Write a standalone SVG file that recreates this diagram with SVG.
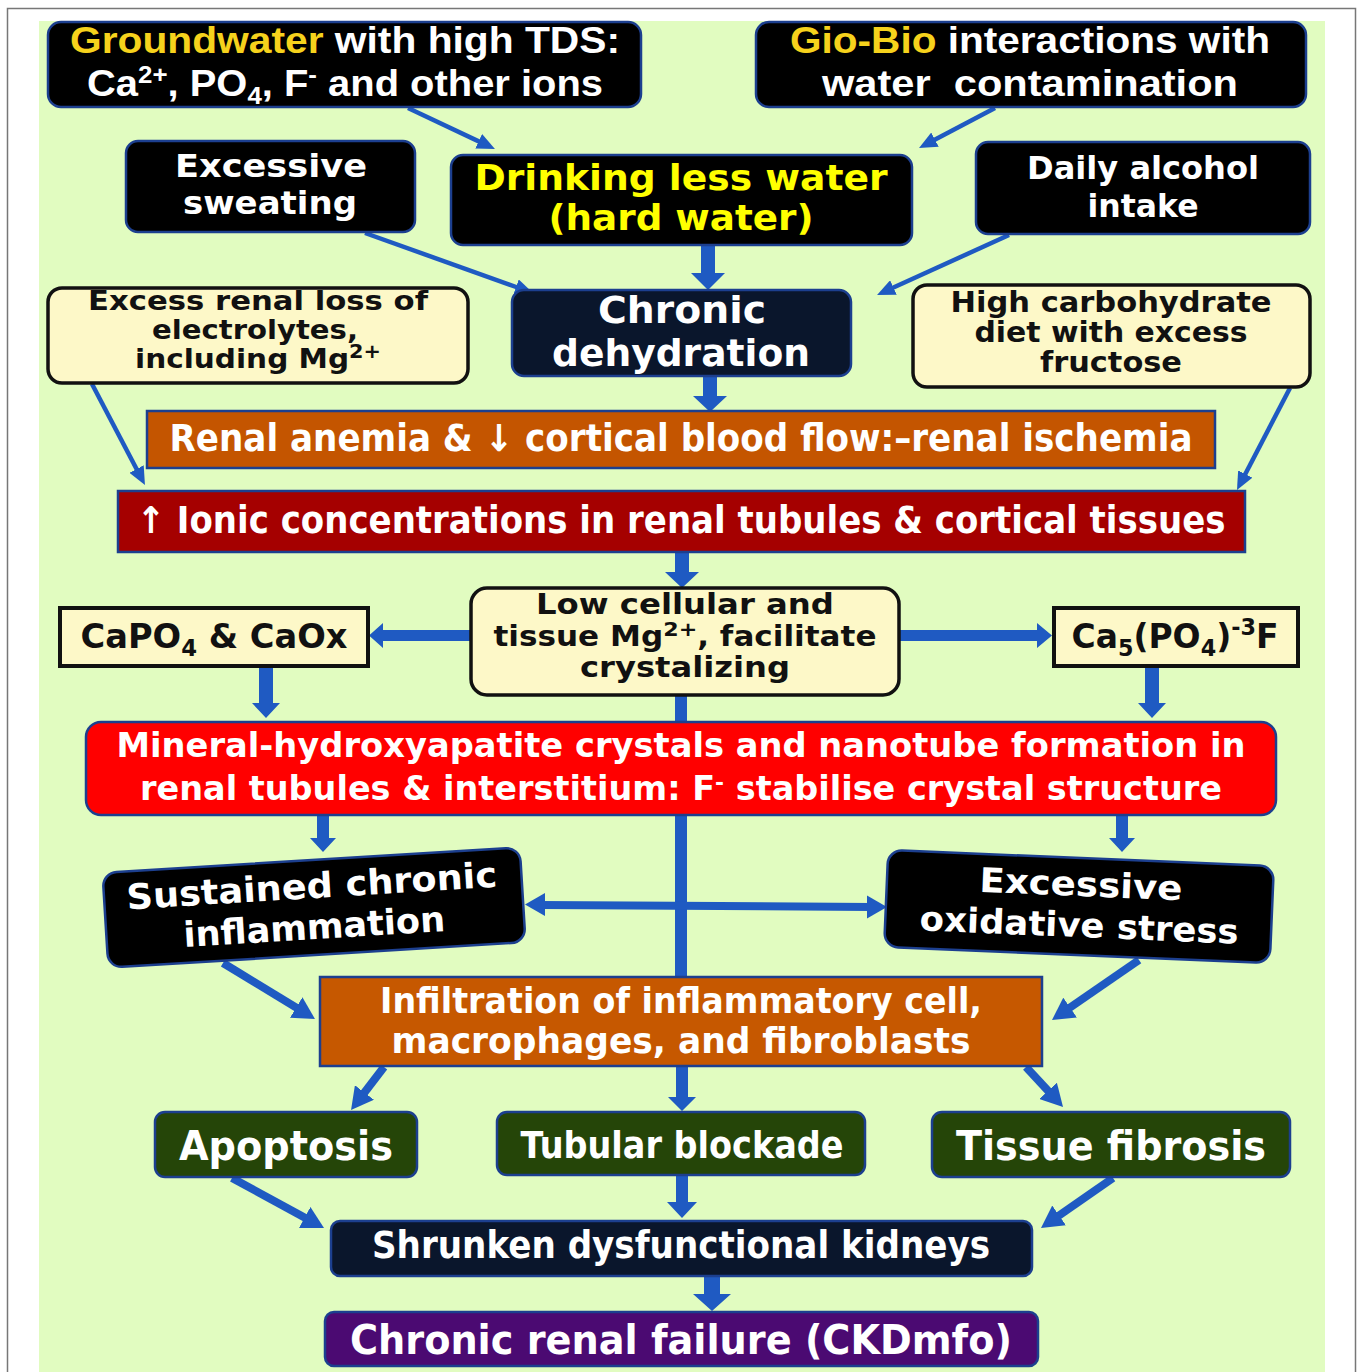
<svg xmlns="http://www.w3.org/2000/svg" width="1358" height="1372" viewBox="0 0 1358 1372">
<defs>
<style>
.t{font-family:"DejaVu Sans","Liberation Sans",sans-serif;font-weight:bold;text-anchor:middle;fill:#fff}
.l{font-family:"Liberation Sans","DejaVu Sans",sans-serif;font-weight:bold;text-anchor:middle;fill:#fff}
.dk{fill:#000;stroke:#1c3f8f;stroke-width:2.5}
.nv{fill:#0a162c;stroke:#1c3f8f;stroke-width:2.5}
.yl{fill:#fdf8c8;stroke:#111;stroke-width:3.5}
.gr{fill:#254508;stroke:#1c3f8f;stroke-width:2.5}
.or{fill:#c45500;stroke:#1c3f8f;stroke-width:2.5}
.yel{fill:#f6d21c}
.conn line{stroke:#1f5ac2;fill:none}
.conn polygon{fill:#1f5ac2}
.thin{stroke-width:4.5}
.med{stroke-width:8}
</style>
<marker id="ah" markerUnits="userSpaceOnUse" markerWidth="18" markerHeight="16" refX="3" refY="8" orient="auto"><path d="M0,0 L18,8 L0,16 z" fill="#1f5ac2"/></marker>
<marker id="ahm" markerUnits="userSpaceOnUse" markerWidth="22" markerHeight="24" refX="4" refY="12" orient="auto"><path d="M0,0 L22,12 L0,24 z" fill="#1f5ac2"/></marker>
</defs>
<rect x="0" y="0" width="1358" height="1372" fill="#fff"/>
<rect x="7.5" y="8.5" width="1348" height="1380" fill="#fff" stroke="#777" stroke-width="1.5"/>
<rect x="39" y="21" width="1286" height="1351" fill="#e1fcc0"/>

<g id="connectors" class="conn">
<line class="thin" x1="408" y1="108" x2="481.4" y2="142.6" marker-end="url(#ah)"/>
<line class="thin" x1="995" y1="108" x2="932.3" y2="141" marker-end="url(#ah)"/>
<line class="thin" x1="365" y1="233" x2="518.9" y2="288" marker-end="url(#ah)"/>
<line class="thin" x1="1009" y1="235" x2="890.7" y2="288.8" marker-end="url(#ah)"/>
<line class="thin" x1="92" y1="384" x2="138" y2="471.7" marker-end="url(#ah)"/>
<line class="thin" x1="1290" y1="388" x2="1243.9" y2="476.7" marker-end="url(#ah)"/>
<polygon points="701,246 715,246 715,273 725,273 708,290 691,273 701,273"/>
<polygon points="703,376 717,376 717,396 727,396 710,412 693,396 703,396"/>
<polygon points="675,552 689,552 689,572 699,572 682,588 665,572 675,572"/>
<polygon points="471,630 383,630 383,623 369,635.5 383,648 383,641 471,641"/>
<polygon points="899,630 1037,630 1037,623 1052,635.5 1037,648 1037,641 899,641"/>
<polygon points="259,667 273,667 273,703 280,703 266,718 252,703 259,703"/>
<polygon points="1145,667 1159,667 1159,703 1166,703 1152,718 1138,703 1145,703"/>
<line x1="681" y1="695" x2="681" y2="977" stroke-width="12"/>
<line x1="540" y1="905" x2="872" y2="907" stroke-width="8"/>
<polygon points="525,904.5 545,893 545,916"/>
<polygon points="887,907 867,895.5 867,918.5"/>
<polygon points="317,815 329,815 329,838 336,838 323,852 310,838 317,838"/>
<polygon points="1116,815 1128,815 1128,838 1135,838 1122,852 1109,838 1116,838"/>
<line class="med" x1="223" y1="963" x2="299.6" y2="1009.6" marker-end="url(#ahm)"/>
<line class="med" x1="1139" y1="960" x2="1066.8" y2="1009.8" marker-end="url(#ahm)"/>
<line class="med" x1="384" y1="1067" x2="362" y2="1095.7" marker-end="url(#ahm)"/>
<line class="med" x1="1026" y1="1067" x2="1050.8" y2="1093.8" marker-end="url(#ahm)"/>
<polygon points="676,1066 688,1066 688,1097 696,1097 682,1111 668,1097 676,1097"/>
<line class="med" x1="232" y1="1178" x2="308.2" y2="1219.4" marker-end="url(#ahm)"/>
<line class="med" x1="1113" y1="1178" x2="1055.8" y2="1217.7" marker-end="url(#ahm)"/>
<polygon points="676,1175 688,1175 688,1202 697,1202 682,1218 667,1202 676,1202"/>
<polygon points="704,1277 720,1277 720,1294 731,1294 712,1311 693,1294 704,1294"/>
</g>

<g id="groundwater">
<rect class="dk" x="48" y="22" width="593" height="85" rx="13"/>
<text class="l" x="345" y="53" font-size="37" textLength="550" lengthAdjust="spacingAndGlyphs"><tspan class="yel">Groundwater</tspan> with high TDS:</text>
<text class="l" x="345" y="96" font-size="37" textLength="516" lengthAdjust="spacingAndGlyphs">Ca<tspan dy="-13" font-size="24">2+</tspan><tspan dy="13">, PO</tspan><tspan dy="8" font-size="24">4</tspan><tspan dy="-8">, F</tspan><tspan dy="-13" font-size="24">-</tspan><tspan dy="13"> and other ions</tspan></text>
</g>

<g id="giobio">
<rect class="dk" x="756" y="22" width="550" height="85" rx="13"/>
<text class="l" x="1030" y="53" font-size="37" textLength="480" lengthAdjust="spacingAndGlyphs"><tspan class="yel">Gio-Bio</tspan> interactions with</text>
<text class="l" x="1030" y="96" font-size="37" textLength="416" lengthAdjust="spacingAndGlyphs" style="white-space:pre">water  contamination</text>
</g>

<g id="sweating">
<rect class="dk" x="126" y="141" width="289" height="91" rx="12"/>
<text class="t" x="271" y="177" font-size="32" textLength="192" lengthAdjust="spacingAndGlyphs">Excessive</text>
<text class="t" x="270" y="214" font-size="32" textLength="174" lengthAdjust="spacingAndGlyphs">sweating</text>
</g>

<g id="drinking">
<rect class="dk" x="451" y="155" width="461" height="90" rx="12"/>
<text class="t" x="681" y="190" font-size="36" style="fill:#ffff00" textLength="413" lengthAdjust="spacingAndGlyphs">Drinking less water</text>
<text class="t" x="681" y="230" font-size="36" style="fill:#ffff00" textLength="265" lengthAdjust="spacingAndGlyphs">(hard water)</text>
</g>

<g id="alcohol">
<rect class="dk" x="976" y="142" width="334" height="92" rx="12"/>
<text class="t" x="1143" y="179" font-size="32" textLength="232" lengthAdjust="spacingAndGlyphs">Daily alcohol</text>
<text class="t" x="1143" y="217" font-size="32" textLength="111" lengthAdjust="spacingAndGlyphs">intake</text>
</g>

<g id="renalloss">
<rect class="yl" x="48" y="288" width="420" height="95" rx="14"/>
<text class="t" x="258" y="310" font-size="27" style="fill:#111" textLength="340" lengthAdjust="spacingAndGlyphs">Excess renal loss of</text>
<text class="t" x="255" y="339" font-size="27" style="fill:#111" textLength="206" lengthAdjust="spacingAndGlyphs">electrolytes,</text>
<text class="t" x="258" y="368" font-size="27" style="fill:#111" textLength="246" lengthAdjust="spacingAndGlyphs">including Mg<tspan dy="-10" font-size="19">2+</tspan></text>
</g>

<g id="dehydration">
<rect class="nv" x="512" y="290" width="339" height="86" rx="12"/>
<text class="t" x="682" y="323" font-size="38" textLength="168" lengthAdjust="spacingAndGlyphs">Chronic</text>
<text class="t" x="681" y="366" font-size="38" textLength="258" lengthAdjust="spacingAndGlyphs">dehydration</text>
</g>

<g id="highcarb">
<rect class="yl" x="913" y="285" width="397" height="102" rx="14"/>
<text class="t" x="1111" y="312" font-size="28" style="fill:#111" textLength="321" lengthAdjust="spacingAndGlyphs">High carbohydrate</text>
<text class="t" x="1111" y="342" font-size="28" style="fill:#111" textLength="273" lengthAdjust="spacingAndGlyphs">diet with excess</text>
<text class="t" x="1111" y="372" font-size="28" style="fill:#111" textLength="142" lengthAdjust="spacingAndGlyphs">fructose</text>
</g>

<g id="anemia">
<rect class="or" x="147" y="411" width="1068" height="57"/>
<text class="t" x="681" y="451" font-size="37" textLength="1023" lengthAdjust="spacingAndGlyphs">Renal anemia &amp; ↓ cortical blood flow:–renal ischemia</text>
</g>

<g id="ionic">
<rect x="118" y="491" width="1127" height="61" fill="#a50000" stroke="#1c3f8f" stroke-width="2.5"/>
<text class="t" x="681" y="533" font-size="37" textLength="1089" lengthAdjust="spacingAndGlyphs">↑ Ionic concentrations in renal tubules &amp; cortical tissues</text>
</g>

<g id="lowmg">
<rect class="yl" x="471" y="588" width="428" height="107" rx="16"/>
<text class="t" x="685" y="614" font-size="28" style="fill:#111" textLength="298" lengthAdjust="spacingAndGlyphs">Low cellular and</text>
<text class="t" x="685" y="646" font-size="28" style="fill:#111" textLength="383" lengthAdjust="spacingAndGlyphs">tissue Mg<tspan dy="-10" font-size="20">2+</tspan><tspan dy="10">, facilitate</tspan></text>
<text class="t" x="685" y="677" font-size="28" style="fill:#111" textLength="210" lengthAdjust="spacingAndGlyphs">crystalizing</text>
</g>

<g id="capo4">
<rect x="60" y="608" width="308" height="58" fill="#fdf8c8" stroke="#111" stroke-width="4"/>
<text class="t" x="214" y="648" font-size="34" style="fill:#111" textLength="267" lengthAdjust="spacingAndGlyphs">CaPO<tspan dy="8" font-size="23">4</tspan><tspan dy="-8"> &amp; CaOx</tspan></text>
</g>

<g id="ca5po4f">
<rect x="1054" y="608" width="244" height="58" fill="#fdf8c8" stroke="#111" stroke-width="4"/>
<text class="t" x="1175" y="648" font-size="34" style="fill:#111" textLength="207" lengthAdjust="spacingAndGlyphs">Ca<tspan dy="8" font-size="23">5</tspan><tspan dy="-8">(PO</tspan><tspan dy="8" font-size="23">4</tspan><tspan dy="-8">)</tspan><tspan dy="-13" font-size="23">-3</tspan><tspan dy="13">F</tspan></text>
</g>

<g id="mineral">
<rect x="86" y="722" width="1190" height="93" rx="15" fill="#ff0000" stroke="#1c3f8f" stroke-width="2.5"/>
<text class="t" x="681" y="757" font-size="34" textLength="1129" lengthAdjust="spacingAndGlyphs">Mineral-hydroxyapatite crystals and nanotube formation in</text>
<text class="t" x="681" y="800" font-size="34" textLength="1082" lengthAdjust="spacingAndGlyphs">renal tubules &amp; interstitium: F<tspan dy="-10" font-size="22">-</tspan><tspan dy="10"> stabilise crystal structure</tspan></text>
</g>

<g id="inflammation" transform="rotate(-3.5 314 907)">
<rect class="dk" x="105" y="860" width="418" height="95" rx="14"/>
<text class="t" x="313" y="898" font-size="35" textLength="371" lengthAdjust="spacingAndGlyphs">Sustained chronic</text>
<text class="t" x="313" y="939" font-size="35" textLength="262" lengthAdjust="spacingAndGlyphs">inflammation</text>
</g>

<g id="oxidative" transform="rotate(2.4 1079 906.5)">
<rect class="dk" x="886" y="858" width="386" height="97" rx="14"/>
<text class="t" x="1080" y="896" font-size="34" textLength="203" lengthAdjust="spacingAndGlyphs">Excessive</text>
<text class="t" x="1080" y="937" font-size="34" textLength="319" lengthAdjust="spacingAndGlyphs">oxidative stress</text>
</g>

<g id="infiltration">
<rect class="or" x="320" y="977" width="722" height="89" style="fill:#c65800"/>
<text class="t" x="681" y="1013" font-size="35" textLength="602" lengthAdjust="spacingAndGlyphs">Infiltration of inflammatory cell,</text>
<text class="t" x="681" y="1053" font-size="35" textLength="579" lengthAdjust="spacingAndGlyphs">macrophages, and fibroblasts</text>
</g>

<g id="apoptosis">
<rect class="gr" x="155" y="1112" width="262" height="65" rx="10"/>
<text class="t" x="286" y="1160" font-size="41" textLength="214" lengthAdjust="spacingAndGlyphs">Apoptosis</text>
</g>

<g id="tubular">
<rect class="gr" x="497" y="1112" width="368" height="63" rx="10"/>
<text class="t" x="682" y="1158" font-size="38" textLength="323" lengthAdjust="spacingAndGlyphs">Tubular blockade</text>
</g>

<g id="fibrosis">
<rect class="gr" x="932" y="1112" width="358" height="65" rx="10"/>
<text class="t" x="1111" y="1160" font-size="41" textLength="310" lengthAdjust="spacingAndGlyphs">Tissue fibrosis</text>
</g>

<g id="shrunken">
<rect class="nv" x="331" y="1221" width="701" height="55" rx="9"/>
<text class="t" x="681" y="1258" font-size="37" textLength="618" lengthAdjust="spacingAndGlyphs">Shrunken dysfunctional kidneys</text>
</g>

<g id="crf">
<rect x="325" y="1312" width="713" height="54" rx="9" fill="#4b0a72" stroke="#1c3f8f" stroke-width="2.5"/>
<text class="t" x="681" y="1354" font-size="40" textLength="662" lengthAdjust="spacingAndGlyphs">Chronic renal failure (CKDmfo)</text>
</g>
</svg>
